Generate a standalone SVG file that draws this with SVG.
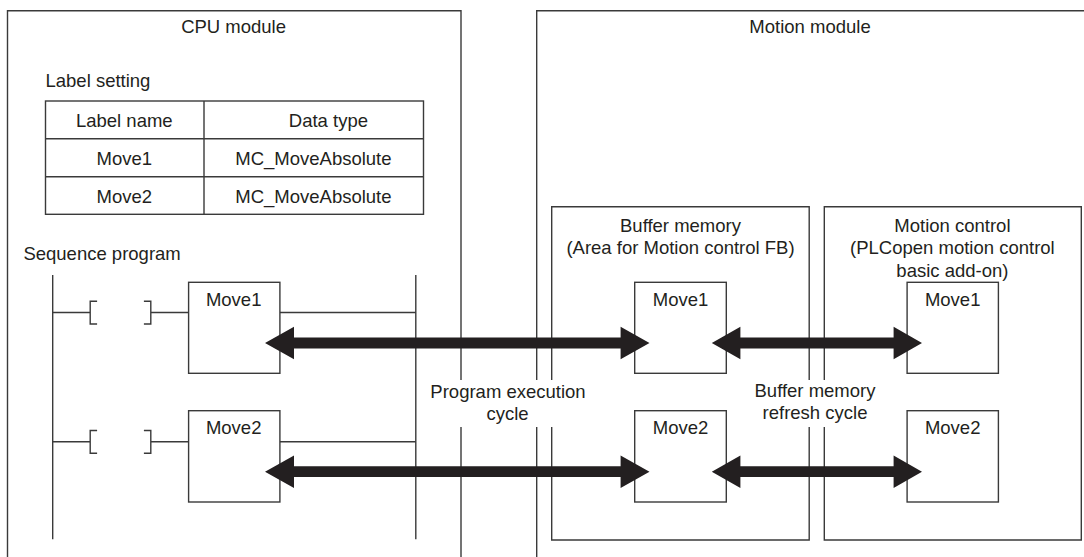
<svg xmlns="http://www.w3.org/2000/svg" width="1084" height="557" viewBox="0 0 1084 557">
<style>
text{font-family:"Liberation Sans",Arial,sans-serif;font-size:18.5px;fill:#231f20}
.m{text-anchor:middle}
.ln{fill:none;stroke:#3a3a3a;stroke-width:1.4}
.box{fill:#fff;stroke:#3a3a3a;stroke-width:1.4}
.arr{fill:#231f20}
</style>
<rect width="1084" height="557" fill="#fff"/>
<g id="cpu-module">
<path class="ln" d="M7.5,560 V10.7 H461 V380 M461,427 V560"/>
<text class="m" x="233.6" y="32.5">CPU module</text>
</g>
<g id="motion-module">
<path class="ln" d="M536.7,560 V427 M536.7,380 V10.7 H1090"/>
<text class="m" x="810" y="32.5">Motion module</text>
</g>
<g id="label-setting">
<text x="45.5" y="87.3">Label setting</text>
<rect class="box" x="45.5" y="101" width="378" height="113.3"/>
<path class="ln" d="M45.5,138.7 H423.5 M45.5,176.7 H423.5 M204,101 V214.3"/>
<text class="m" x="124.3" y="127.3">Label name</text>
<text class="m" x="328.4" y="127.3">Data type</text>
<text class="m" x="124.3" y="165.3">Move1</text>
<text class="m" x="313.4" y="165.3">MC_MoveAbsolute</text>
<text class="m" x="124.3" y="202.7">Move2</text>
<text class="m" x="313.4" y="202.7">MC_MoveAbsolute</text>
</g>
<g id="sequence-program">
<text x="23.4" y="260">Sequence program</text>
<path class="ln" d="M52.7,275 V539.3 M415.8,275 V539.3"/>
<path class="ln" d="M52.7,312.5 H90.2 M97.1,301.3 H90.2 V324 H97.1 M143.9,301.3 H150.8 V324 H143.9 M150.8,312.5 H188.6 M279.9,312.5 H415.8"/>
<path class="ln" d="M52.7,441.7 H90.2 M97.1,430.5 H90.2 V453.2 H97.1 M143.9,430.5 H150.8 V453.2 H143.9 M150.8,441.7 H188.6 M279.9,441.7 H415.8"/>
</g>
<g id="cpu-move1">
<rect class="box" x="188.6" y="282.3" width="91.3" height="91"/>
<text class="m" x="233.7" y="305.5">Move1</text>
</g>
<g id="cpu-move2">
<rect class="box" x="188.6" y="410.7" width="91.3" height="91.3"/>
<text class="m" x="233.7" y="434">Move2</text>
</g>
<g id="buffer-memory">
<path class="ln" d="M551.7,380 V206.7 H809.2 V380 M809.2,427 V540 H551.7 V427"/>
<text class="m" x="680.5" y="231.7">Buffer memory</text>
<text class="m" x="680.5" y="254">(Area for Motion control FB)</text>
</g>
<g id="buf-move1">
<rect class="box" x="634.7" y="282.3" width="91.6" height="91"/>
<text class="m" x="680.5" y="305.5">Move1</text>
</g>
<g id="buf-move2">
<rect class="box" x="634.7" y="410.7" width="91.6" height="91.3"/>
<text class="m" x="680.5" y="434">Move2</text>
</g>
<g id="motion-control">
<path class="ln" d="M824.3,380 V206.7 H1081.3 V540 H824.3 V427"/>
<text class="m" x="952.4" y="231.7">Motion control</text>
<text class="m" x="952.4" y="254">(PLCopen motion control</text>
<text class="m" x="952.4" y="276.7">basic add-on)</text>
</g>
<g id="mc-move1">
<rect class="box" x="907.1" y="282.3" width="91.3" height="91"/>
<text class="m" x="952.7" y="305.5">Move1</text>
</g>
<g id="mc-move2">
<rect class="box" x="907.1" y="410.7" width="91.3" height="91.3"/>
<text class="m" x="952.7" y="434">Move2</text>
</g>
<g id="labels">
<text class="m" x="508" y="398">Program execution</text>
<text class="m" x="507.5" y="420">cycle</text>
<text class="m" x="815" y="397">Buffer memory</text>
<text class="m" x="815" y="419">refresh cycle</text>
</g>
<g id="connectors">
<path class="arr" d="M265,343 L294,326.7 V337.6 H620.6 V326.7 L649.5,343 L620.6,359.3 V348.4 H294 V359.3 Z"/>
<path class="arr" d="M265,471.7 L294,455.4 V466.3 H620.6 V455.4 L649.5,471.7 L620.6,488 V477.1 H294 V488 Z"/>
<path class="arr" d="M711.8,343 L740.4,326.7 V337.6 H893.6 V326.7 L922,343 L893.6,359.3 V348.4 H740.4 V359.3 Z"/>
<path class="arr" d="M711.8,471.7 L740.4,455.4 V466.3 H893.6 V455.4 L922,471.7 L893.6,488 V477.1 H740.4 V488 Z"/>
</g>
</svg>
